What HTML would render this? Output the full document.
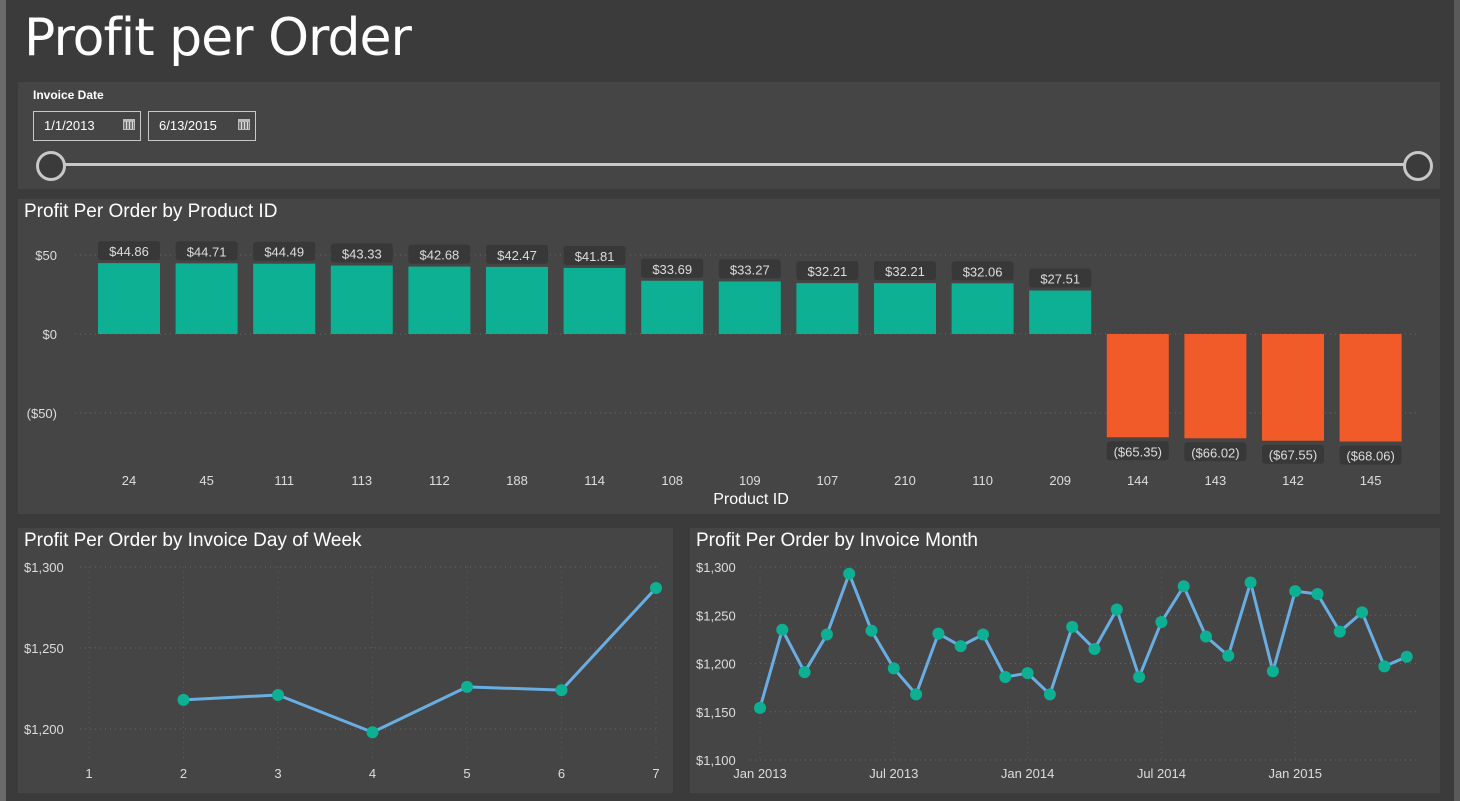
<!DOCTYPE html>
<html><head><meta charset="utf-8">
<style>
html,body{margin:0;padding:0;width:1460px;height:801px;overflow:hidden;background:#3b3b3b;font-family:"Liberation Sans",sans-serif;}
.frame{position:absolute;left:0;top:0;width:1460px;height:801px;box-sizing:border-box;border-left:6px solid #6a6a6a;border-right:6px solid #5a5a5a;}
.title{position:absolute;left:24px;top:8px;font-family:"DejaVu Sans","Liberation Sans",sans-serif;font-size:52px;color:#fff;letter-spacing:-1px;}
.panel{position:absolute;background:#454545;}
.ptitle{position:absolute;left:6px;top:2px;font-size:19px;color:#fff;}
.date{position:absolute;top:29px;height:30px;border:1px solid #c8c8c8;box-sizing:border-box;color:#fff;font-size:13px;line-height:28px;padding-left:10px;}
.cal{position:absolute;right:5px;top:7px;width:12px;height:11px;border:1px solid #bbb;border-top:3px solid #bbb;box-sizing:border-box;background:repeating-linear-gradient(90deg,#777 0 2px,#ddd 2px 3px);}
svg text{font-family:"Liberation Sans",sans-serif;}
</style></head><body>
<div class="frame"></div>
<div class="title">Profit per Order</div>

<div class="panel" style="left:18px;top:82px;width:1422px;height:107px">
  <div style="position:absolute;left:15px;top:6px;font-size:12px;font-weight:bold;color:#fff">Invoice Date</div>
  <div class="date" style="left:15px;width:108px">1/1/2013<span class="cal"></span></div>
  <div class="date" style="left:130px;width:108px">6/13/2015<span class="cal"></span></div>
  <div style="position:absolute;left:32px;top:81px;width:1366px;height:3px;background:#c8c8c8"></div>
  <div style="position:absolute;left:18px;top:69px;width:24px;height:24px;border:3px solid #c8c8c8;border-radius:50%;background:#3b3b3b"></div>
  <div style="position:absolute;left:1385px;top:69px;width:24px;height:24px;border:3px solid #c8c8c8;border-radius:50%;background:#3b3b3b"></div>
</div>

<div class="panel" style="left:18px;top:199px;width:1422px;height:315px">
  <div class="ptitle">Profit Per Order by Product ID</div>
</div>
<div class="panel" style="left:18px;top:528px;width:655px;height:265px">
  <div class="ptitle">Profit Per Order by Invoice Day of Week</div>
</div>
<div class="panel" style="left:690px;top:528px;width:750px;height:265px">
  <div class="ptitle">Profit Per Order by Invoice Month</div>
</div>

<svg id="chart" width="1460" height="801" style="position:absolute;left:0;top:0"></svg>

<script>
const productIds=["24","45","111","113","112","188","114","108","109","107","210","110","209","144","143","142","145"];
const productProfit=[44.86,44.71,44.49,43.33,42.68,42.47,41.81,33.69,33.27,32.21,32.21,32.06,27.51,-65.35,-66.02,-67.55,-68.06];
const productTicks=[50,0,-50];
const weekDays=[2,3,4,5,6,7];
const weekProfit=[1218,1221,1198,1226,1224,1287];
const weekXTicks=[1,2,3,4,5,6,7];
const weekYTicks=[1300,1250,1200];
const monthProfit=[1154,1235,1191,1230,1293,1234,1195,1168,1231,1218,1230,1186,1190,1168,1238,1215,1256,1186,1243,1280,1228,1208,1284,1192,1275,1272,1233,1253,1197,1207];
const monthTickLabels=["Jan 2013","Jul 2013","Jan 2014","Jul 2014","Jan 2015"];
const monthYTicks=[1300,1250,1200,1150,1100];

const NS="http://www.w3.org/2000/svg";
const svg=document.getElementById('chart');
function mk(tag,attrs,parent){const e=document.createElementNS(NS,tag);for(const k in attrs)e.setAttribute(k,attrs[k]);(parent||svg).appendChild(e);return e;}
function txt(x,y,s,size,fill,anchor){const t=mk('text',{x:x,y:y,'font-size':size,fill:fill,'text-anchor':anchor||'middle'});t.textContent=s;return t;}
function money(v){const s='$'+Math.abs(v).toLocaleString('en-US');return v<0?'('+s+')':s;}

const bx=i=>129+i*77.6;
const by=v=>334-v*1.58;
productTicks.forEach(t=>{
  const g=mk('line',{x1:75,x2:1420,y1:by(t),y2:by(t),stroke:'#666','stroke-dasharray':'1 4'});
  
  
  const l=txt(57,by(t)+5,money(t),13,'#ddd','end');
  
  
});
productProfit.forEach((v,i)=>{
  const pos=v>=0;
  const r=mk('rect',{x:bx(i)-31,width:62,y:pos?by(v):by(0),height:Math.abs(by(v)-by(0)),fill:pos?'#0db092':'#f15a29'});
  
  
  const lab=(pos?'$':'($')+Math.abs(v).toFixed(2)+(pos?'':')');
  const ly=pos?by(v)-9:by(v)+17;
  const bg=mk('rect',{x:bx(i)-31,y:ly-13,width:62,height:19,rx:3,fill:'#383838'});
  
  
  const t=txt(bx(i),ly+2,lab,13,'#ddd');
  
  
  const xt=txt(bx(i),485,productIds[i],13,'#ddd');
  
  
});
const xa=txt(751,504,'Product ID',16,'#fff');



const wx=d=>89+(d-1)*94.5;
const wy=v=>567+(1300-v)*1.62;
weekYTicks.forEach(t=>{
  const g=mk('line',{x1:80,x2:660,y1:wy(t),y2:wy(t),stroke:'#666','stroke-dasharray':'1 4'});
  
  
  const l=txt(24,wy(t)+5,money(t),13,'#ddd','start');
  
  
});
weekXTicks.forEach(d=>{
  const g=mk('line',{x1:wx(d),x2:wx(d),y1:567,y2:760,stroke:'#5a5a5a','stroke-dasharray':'1 4'});
  
  
  const l=txt(wx(d),778,String(d),13,'#ddd');
  
  
});
const wl=mk('polyline',{points:weekDays.map((d,i)=>wx(d)+','+wy(weekProfit[i])).join(' '),fill:'none',stroke:'#69aee3','stroke-width':3});


weekDays.forEach((d,i)=>{
  const c=mk('circle',{cx:wx(d),cy:wy(weekProfit[i]),r:6,fill:'#0db092'});
  
  
});

const mx=i=>760+i*22.3;
const my=v=>567+(1300-v)*0.965;
monthYTicks.forEach(t=>{
  const g=mk('line',{x1:750,x2:1420,y1:my(t),y2:my(t),stroke:'#666','stroke-dasharray':'1 4'});
  
  
  const l=txt(696,my(t)+5,money(t),13,'#ddd','start');
  
  
});
monthTickLabels.forEach((s,k)=>{
  const x=mx(k*6);
  const g=mk('line',{x1:x,x2:x,y1:567,y2:760,stroke:'#5a5a5a','stroke-dasharray':'1 4'});
  
  
  const l=txt(x,778,s,13,'#ddd');
  
  
});
const ml=mk('polyline',{points:monthProfit.map((v,i)=>mx(i)+','+my(v)).join(' '),fill:'none',stroke:'#69aee3','stroke-width':3});


monthProfit.forEach((v,i)=>{
  const c=mk('circle',{cx:mx(i),cy:my(v),r:6,fill:'#0db092'});
  
  
});
</script>
</body></html>
